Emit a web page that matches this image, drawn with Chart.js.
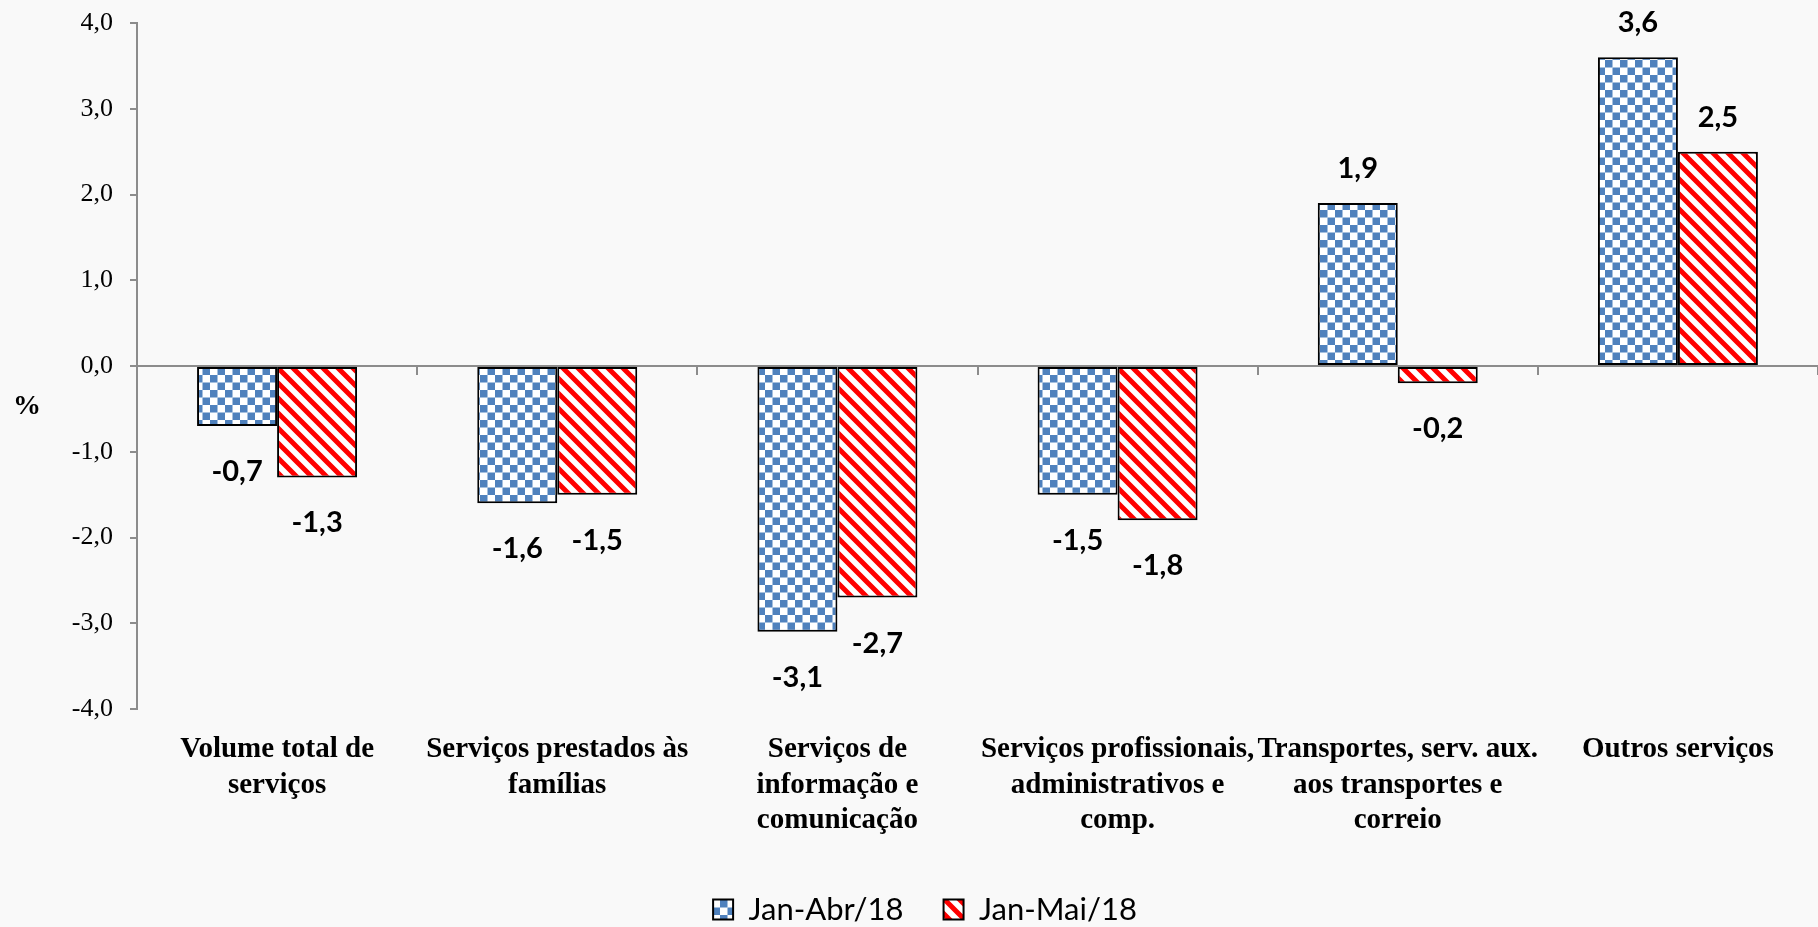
<!DOCTYPE html>
<html>
<head>
<meta charset="utf-8">
<script src="https://cdn.jsdelivr.net/npm/chart.js@4/dist/chart.umd.min.js"></script>
<style>
  html, body { margin: 0; padding: 0; background: #f9f9f9; }
  #wrap { width: 1818px; height: 927px; position: relative; }
</style>
</head>
<body>
<div id="wrap"><canvas id="chart"></canvas></div>
<script>
const categories = [
    ['Volume total de', 'serviços'],
    ['Serviços prestados às', 'famílias'],
    ['Serviços de', 'informação e', 'comunicação'],
    ['Serviços profissionais,', 'administrativos e', 'comp.'],
    ['Transportes, serv. aux.', 'aos transportes e', 'correio'],
    ['Outros serviços'],
];
const seriesNames = ['Jan-Abr/18', 'Jan-Mai/18'];
const janAbr = [-0.7, -1.6, -3.1, -1.5, 1.9, 3.6];
const janMai = [-1.3, -1.5, -2.7, -1.8, -0.2, 2.5];
const yTicks = [-4, -3, -2, -1, 0, 1, 2, 3, 4];

const AXIS_GRAY = '#8c8c8c';
const fmt = (v) => v.toFixed(1).replace('.', ',');

function checkerPattern() {
    const c = document.createElement('canvas');
    c.width = 15;
    c.height = 15;
    const g = c.getContext('2d');
    g.fillStyle = '#ffffff';
    g.fillRect(0, 0, 15, 15);
    g.fillStyle = '#4f81bd';
    g.fillRect(0, 0, 7.5, 7.5);
    g.fillRect(7.5, 7.5, 7.5, 7.5);
    return g.createPattern(c, 'repeat');
}

function stripePattern() {
    const c = document.createElement('canvas');
    c.width = 15;
    c.height = 15;
    const g = c.getContext('2d');
    g.fillStyle = '#ffffff';
    g.fillRect(0, 0, 15, 15);
    g.strokeStyle = '#ff0000';
    g.lineWidth = 5;
    g.beginPath();
    g.moveTo(-7.5, -7.5); g.lineTo(22.5, 22.5);
    g.moveTo(-7.5, 7.5); g.lineTo(7.5, 22.5);
    g.moveTo(7.5, -7.5); g.lineTo(22.5, 7.5);
    g.stroke();
    return g.createPattern(c, 'repeat');
}

// value labels just outside the bar end
const valueLabels = {
    id: 'valueLabels',
    afterDatasetsDraw(chart) {
        const { ctx } = chart;
        ctx.save();
        ctx.font = 'bold 29px Lato, "Liberation Sans", sans-serif';
        ctx.fillStyle = '#000';
        ctx.textAlign = 'center';
        ctx.textBaseline = 'alphabetic';
        chart.data.datasets.forEach((ds, i) => {
            chart.getDatasetMeta(i).data.forEach((bar, j) => {
                const v = ds.data[j];
                const cy = v >= 0 ? bar.y - 35 : bar.y + 45;
                ctx.fillText(fmt(v), bar.x, cy + 10);
            });
        });
        ctx.restore();
    },
};

const unitLabel = {
    id: 'unitLabel',
    afterDraw(chart) {
        const { ctx } = chart;
        const y = chart.scales.y.getPixelForValue(-0.47);
        ctx.save();
        ctx.font = 'bold 28px "Liberation Serif", serif';
        ctx.fillStyle = '#000';
        ctx.textAlign = 'center';
        ctx.textBaseline = 'middle';
        ctx.fillText('%', 27, y);
        ctx.restore();
    },
};

new Chart(document.getElementById('chart'), {
    type: 'bar',
    data: {
        labels: categories,
        datasets: [
            {
                label: seriesNames[0],
                data: janAbr,
                backgroundColor: checkerPattern(),
                borderColor: '#000',
                borderWidth: 2,
                borderSkipped: false,
                categoryPercentage: 0.571,
                barPercentage: 1,
            },
            {
                label: seriesNames[1],
                data: janMai,
                backgroundColor: stripePattern(),
                borderColor: '#000',
                borderWidth: 2,
                borderSkipped: false,
                categoryPercentage: 0.571,
                barPercentage: 1,
            },
        ],
    },
    options: {
        responsive: true,
        maintainAspectRatio: false,
        animation: false,
        layout: { padding: { left: 32, right: 0, top: 23, bottom: 0 } },
        plugins: {
            legend: {
                position: 'bottom',
                maxHeight: 73,
                labels: {
                    boxWidth: 20,
                    boxHeight: 20,
                    padding: 40,
                    color: '#000',
                    font: { family: 'Lato, "Liberation Sans", sans-serif', size: 31 },
                },
            },
            tooltip: { enabled: false },
        },
        scales: {
            x: {
                offset: true,
                grid: { display: false, offset: true, drawTicks: false },
                border: { display: false },
                ticks: {
                    maxRotation: 0,
                    autoSkip: false,
                    padding: 23,
                    color: '#000',
                    font: { family: '"Liberation Serif", serif', size: 29, weight: 'bold', lineHeight: 1.22 },
                },
                afterFit(axis) {
                    axis.height = 145;
                },
            },
            x0: {
                type: 'category',
                position: { y: 0 },
                offset: true,
                z: 1,
                grid: { offset: true, drawOnChartArea: false, drawTicks: true, tickLength: 8, color: AXIS_GRAY, lineWidth: 2 },
                border: { color: AXIS_GRAY, width: 2 },
                ticks: { display: false },
            },
            y: {
                min: yTicks[0],
                max: yTicks[yTicks.length - 1],
                afterBuildTicks(axis) {
                    axis.ticks = yTicks.map((value) => ({ value }));
                },
                grid: { drawOnChartArea: false, drawTicks: true, tickLength: 7, color: AXIS_GRAY, lineWidth: 2 },
                border: { color: AXIS_GRAY, width: 2 },
                ticks: {
                    padding: 17,
                    color: '#000',
                    font: { family: '"Liberation Serif", serif', size: 26, lineHeight: 0.4 },
                    callback(value) {
                        return fmt(Number(value));
                    },
                },
                afterFit(axis) {
                    axis.width = 105;
                },
            },
        },
    },
    plugins: [valueLabels, unitLabel],
});
</script>
</body>
</html>
